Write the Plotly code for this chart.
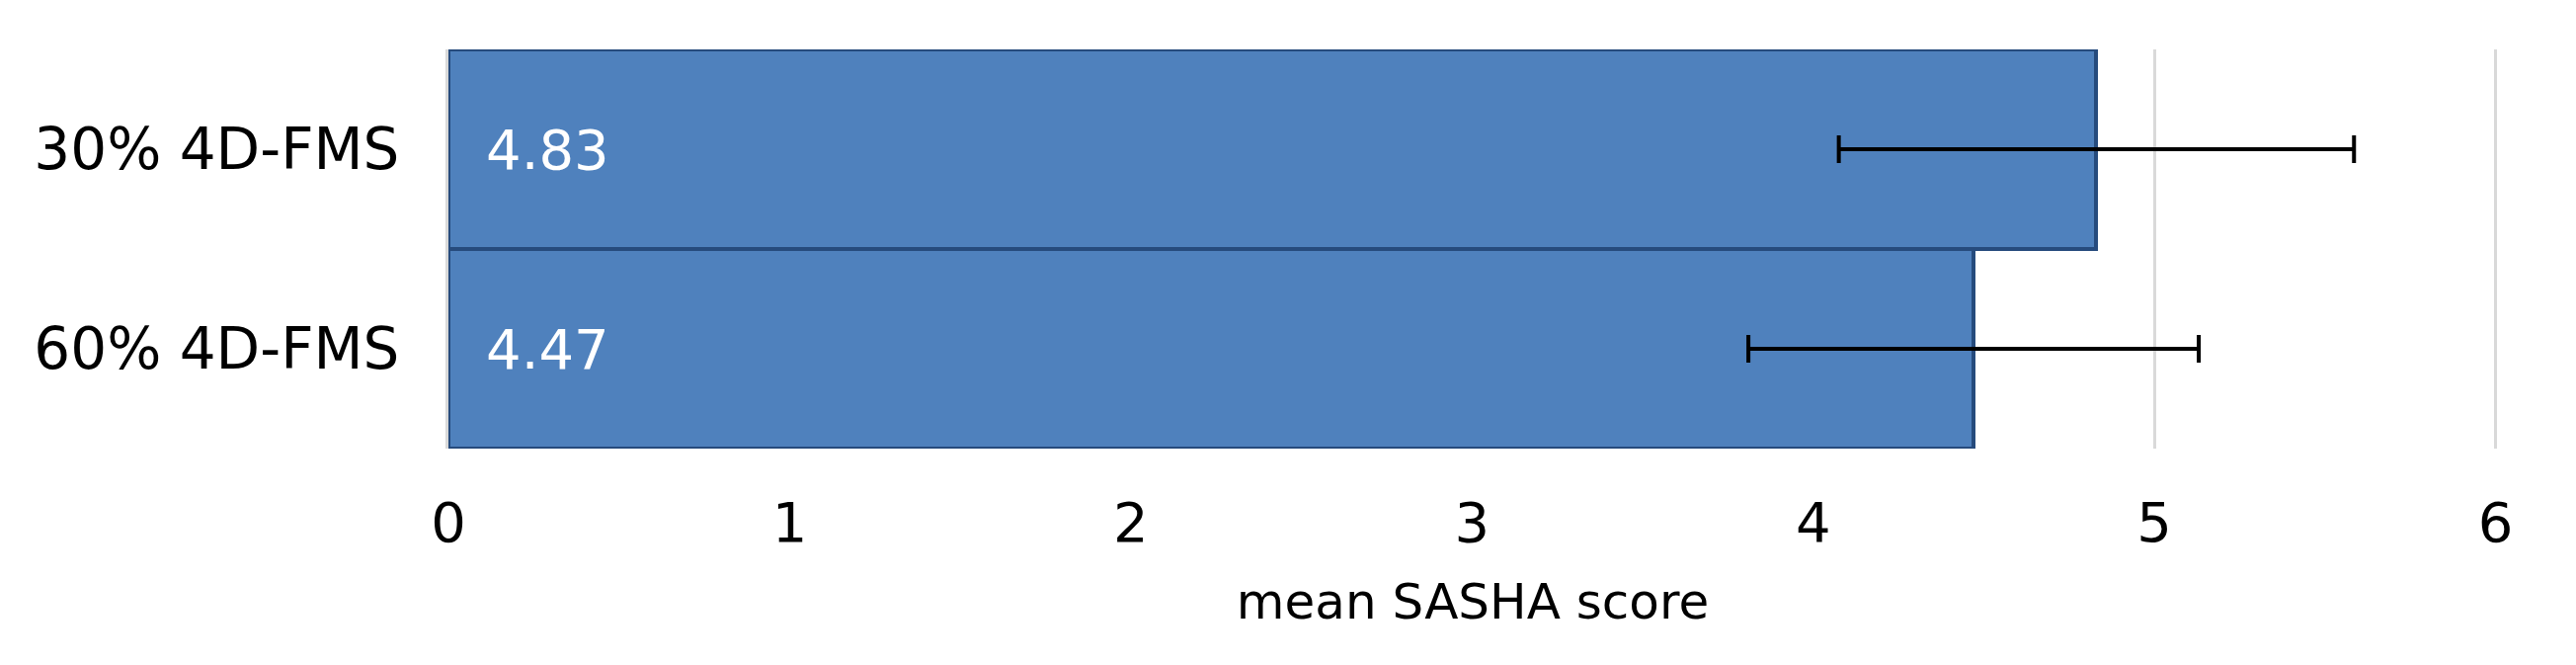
import plotly.graph_objects as go

# 数据
categories = ["30% 4D-FMS", "60% 4D-FMS"]
mean_scores = [4.83, 4.47]
error_sd = [0.755, 0.66]
x_ticks = [0, 1, 2, 3, 4, 5, 6]

FONT = "DejaVu Sans"
BAR_FILL = "#4F81BD"
BAR_EDGE = "#264B7D"

fig = go.Figure()

fig.add_trace(go.Bar(
    y=categories,
    x=mean_scores,
    orientation="h",
    marker=dict(color=BAR_FILL, line=dict(color=BAR_EDGE, width=4)),
    error_x=dict(type="data", array=error_sd, visible=True,
                 color="black", thickness=4, width=14),
    hoverinfo="skip",
))

# 数值标签（柱内左侧，白字）
for cat, val in zip(categories, mean_scores):
    fig.add_annotation(
        x=0, y=cat, text=f"{val:.2f}", showarrow=False,
        xanchor="left", xshift=36,
        font=dict(family=FONT, size=56, color="white"),
    )

# 页面 body 默认有 8px 边距，这里把图缩小 8px 来抵消
fig.update_layout(
    width=2600, height=665,
    margin=dict(l=446, r=80, t=42, b=219),
    paper_bgcolor="white", plot_bgcolor="white",
    bargap=0,
    showlegend=False,
    font=dict(family=FONT, color="black"),
)

fig.update_xaxes(
    range=[0, 6.004],
    tickvals=x_ticks,
    tickfont=dict(size=56),
    ticklabelstandoff=37,
    showgrid=True, gridcolor="#D9D9D9", gridwidth=3,
    zeroline=False,
    showline=False,
    title=dict(text="mean SASHA score", font=dict(size=50), standoff=30),
)

fig.update_yaxes(
    categoryorder="array", categoryarray=categories[::-1],
    tickfont=dict(size=58),
    ticklabelstandoff=35,
    showgrid=False, zeroline=False,
    showline=True, linecolor="#D9D9D9", linewidth=3,
)

fig.write_html("out.html")
